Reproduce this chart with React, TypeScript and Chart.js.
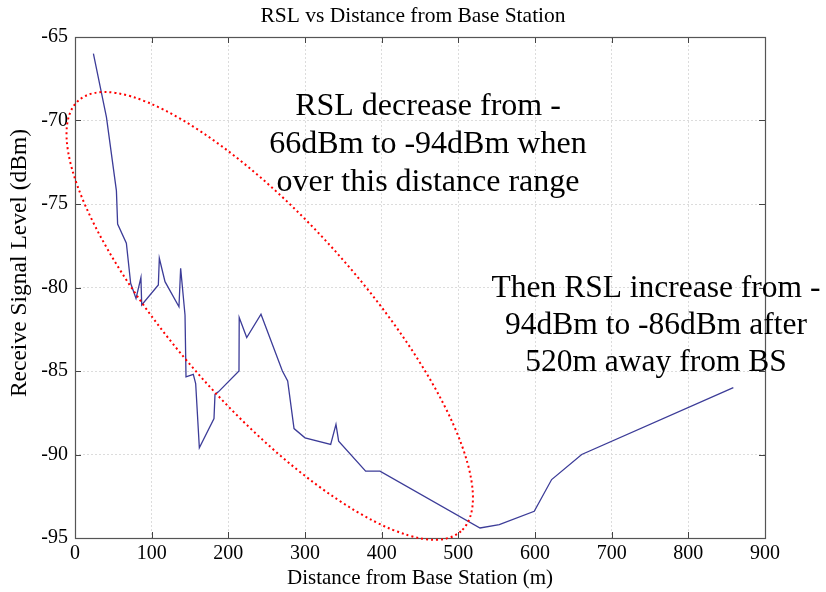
import React, { useEffect, useRef } from "react";
import { Chart, registerables } from "chart.js";

Chart.register(...registerables);

// ---- data ----
const distance = [24, 41, 54, 55.6, 67, 72.6, 79.6, 86, 87, 108.7, 110, 117.4, 135.6, 137.8, 143.5, 144.8, 154.3, 157.4, 162.2, 181.3, 182.6, 187, 213.9, 214.2, 224, 242.6, 270.5, 277.4, 285.7, 300, 333.5, 340.4, 343.9, 379.1, 397.8, 528.3, 553.4, 599, 621.7, 660.9, 858.7];
const rsl = [-66, -69.8, -74.2, -76.2, -77.35, -79.75, -80.65, -79.4, -81.05, -79.85, -78.25, -79.65, -81.15, -78.85, -81.65, -85.35, -85.2, -85.75, -89.6, -87.85, -86.4, -86.25, -85, -81.8, -83, -81.6, -85, -85.6, -88.45, -89, -89.4, -88.2, -89.2, -91, -91, -94.4, -94.2, -93.4, -91.5, -90, -86];

const xTicks = [0, 100, 200, 300, 400, 500, 600, 700, 800, 900];
const yTicks = [-95, -90, -85, -80, -75, -70, -65];

const titleText = "RSL vs Distance from Base Station";
const xTitle = "Distance from Base Station (m)";
const yTitle = "Receive Signal Level (dBm)";
const noteDecrease = ["RSL decrease from -", "66dBm to -94dBm when", "over this distance range"];
const noteIncrease = ["Then RSL increase from -", "94dBm to -86dBm after", "520m away from BS"];

const SERIF = "'Liberation Serif', 'Times New Roman', serif";

const decorPlugin = {
  id: "decor",
  afterDatasetsDraw(chart: any) {
    const { ctx, chartArea: a, scales } = chart;
    const xs = scales.x, ys = scales.y;
    ctx.save();
    // inward tick marks
    ctx.strokeStyle = "#444";
    ctx.lineWidth = 1;
    ctx.beginPath();
    const tl = 6;
    xTicks.forEach((v) => {
      const px = Math.round(xs.getPixelForValue(v)) + 0.5;
      ctx.moveTo(px, a.bottom); ctx.lineTo(px, a.bottom - tl);
      ctx.moveTo(px, a.top); ctx.lineTo(px, a.top + tl);
    });
    yTicks.forEach((v) => {
      const py = Math.round(ys.getPixelForValue(v)) + 0.5;
      ctx.moveTo(a.left, py); ctx.lineTo(a.left + tl, py);
      ctx.moveTo(a.right, py); ctx.lineTo(a.right - tl, py);
    });
    ctx.stroke();
    // box
    ctx.strokeStyle = "#555";
    ctx.lineWidth = 1.2;
    ctx.strokeRect(Math.round(a.left) + 0.5, Math.round(a.top) + 0.5, Math.round(a.right - a.left), Math.round(a.bottom - a.top));
    ctx.restore();
  },
  afterDraw(chart: any) {
    const { ctx, chartArea: a, scales } = chart;
    const xs = scales.x, ys = scales.y;
    ctx.save();
    // titles
    ctx.fillStyle = "#000";
    ctx.textAlign = "center";
    ctx.textBaseline = "middle";
    ctx.font = `21.5px ${SERIF}`;
    ctx.fillText(titleText, 413, 16);
    ctx.font = `21px ${SERIF}`;
    ctx.fillText(xTitle, (a.left + a.right) / 2, 578);
    ctx.save();
    ctx.translate(20, 263);
    ctx.rotate(-Math.PI / 2);
    ctx.font = `23.5px ${SERIF}`;
    ctx.fillText(yTitle, 0, 0);
    ctx.restore();

    // dotted ellipse
    const cx = xs.getPixelForValue(254);
    const cy = ys.getPixelForValue(-81.7);
    ctx.strokeStyle = "#ff0000";
    ctx.lineWidth = 2;
    ctx.setLineDash([2, 3]);
    ctx.beginPath();
    ctx.ellipse(cx, cy, 288, 92, (48.4 * Math.PI) / 180, 0, Math.PI * 2);
    ctx.stroke();
    ctx.setLineDash([]);

    // notes
    ctx.fillStyle = "#000";
    ctx.textBaseline = "alphabetic";
    ctx.font = `32px ${SERIF}`;
    noteDecrease.forEach((t, i) => ctx.fillText(t, 428, 115 + i * 38));
    ctx.font = `31.5px ${SERIF}`;
    noteIncrease.forEach((t, i) => ctx.fillText(t, 656, 297 + i * 37));
    ctx.restore();
  },
};

export default function App() {
  const ref = useRef<HTMLCanvasElement | null>(null);
  useEffect(() => {
    if (!ref.current) return;
    const chart = new Chart(ref.current, {
      type: "line",
      data: {
        datasets: [
          {
            data: distance.map((d, i) => ({ x: d, y: rsl[i] })),
            borderColor: "#3c3c98",
            borderWidth: 1.3,
            pointRadius: 0,
            tension: 0,
            fill: false,
          },
        ],
      },
      options: {
        responsive: false,
        animation: false,
        layout: { padding: { top: 37, right: 61, left: 0, bottom: 0 } },
        plugins: { legend: { display: false }, tooltip: { enabled: false }, title: { display: false } },
        scales: {
          x: {
            type: "linear",
            min: 0,
            max: 900,
            afterFit: (s: any) => { s.height = 54; },
            afterBuildTicks: (s: any) => { s.ticks = xTicks.map((v) => ({ value: v })); },
            ticks: { color: "#000", font: { family: SERIF, size: 20 }, padding: 4, maxRotation: 0, autoSkip: false },
            grid: { color: "#dcdcdc", lineWidth: 1, drawTicks: false },
            border: { display: false, dash: [2, 2] },
          },
          y: {
            type: "linear",
            min: -95,
            max: -65,
            afterFit: (s: any) => { s.width = 75; },
            afterBuildTicks: (s: any) => { s.ticks = yTicks.map((v) => ({ value: v })); },
            ticks: { color: "#000", font: { family: SERIF, size: 20 }, padding: 7, autoSkip: false },
            grid: { color: "#dcdcdc", lineWidth: 1, drawTicks: false },
            border: { display: false, dash: [2, 2] },
          },
        },
      },
      plugins: [decorPlugin],
    } as any);
    return () => chart.destroy();
  }, []);
  return (
    <div style={{ position: "fixed", left: 0, top: 0, width: 826, height: 592, background: "#fff" }}>
      <canvas ref={ref} width={826} height={592} style={{ display: "block" }} />
    </div>
  );
}
